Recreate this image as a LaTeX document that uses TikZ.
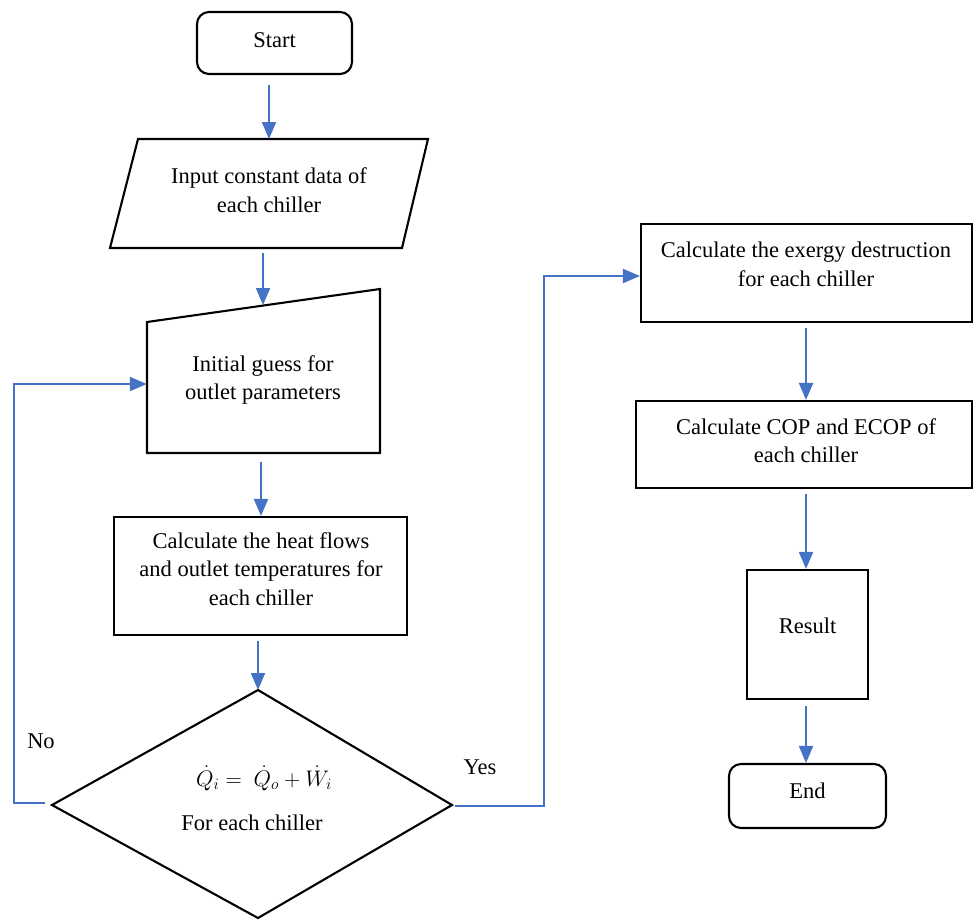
\RequirePackage{fix-cm}
\documentclass[tikz,border=0pt]{standalone}
\usepackage{fontspec}
\setmainfont{Liberation Serif}
\usetikzlibrary{arrows.meta}
\definecolor{flowblue}{HTML}{4472C4}
\begin{document}
\begin{tikzpicture}[x=1pt,y=-1pt,
  box/.style={draw=black,line width=2.1pt,inner sep=0pt},
  rbox/.style={box,rounded corners=12pt},
  shp/.style={draw=black,line width=2.1pt,line join=miter},
  txt/.style={align=center,inner sep=0pt,font=\fontsize{22.5}{28.5}\selectfont},
  arr/.style={draw=flowblue,line width=2pt,-{Triangle[width=14pt,length=17pt]}},
  every node/.append style={font=\fontsize{22.5}{28.5}\selectfont}
]
\useasboundingbox (0,0) rectangle (973,919);

% Start
\node[rbox,minimum width=155pt,minimum height=62pt] (start) at (274.5,43) {};
\node[txt] (starttxt) at (274.5,40) {Start};

% Input parallelogram
\draw[shp] (138,139) -- (428,139) -- (402,248) -- (110,248) -- cycle;
\node[minimum width=290pt,minimum height=109pt,inner sep=0pt] (input) at (269,193.5) {};
\node[txt] (inputtxt) at (269,190) {Input constant data of\\each chiller};

% Manual input (initial guess)
\draw[shp] (147,322) -- (380,289) -- (380,453) -- (147,453) -- cycle;
\coordinate (guesstop) at (263,305);
\node[minimum width=233pt,minimum height=131pt,inner sep=0pt] (guess) at (263.5,387.5) {};
\node[txt] (guesstxt) at (263,380) {Initial guess for\\outlet parameters};

% Heat flows
\node[box,minimum width=293pt,minimum height=118pt] (heat) at (260.5,576) {};
\node[txt] (heattxt) at (261,569) {Calculate the heat flows\\and outlet temperatures for\\each chiller};

% Decision diamond
\draw[shp] (258,690) -- (452,805) -- (258,918) -- (52,805) -- cycle;
\coordinate (dleft) at (45,803);
\coordinate (dright) at (455,806);
\node[inner sep=0pt] (math) at (264,778) {$\dot{Q}_i =\ \dot{Q}_o + \dot{W}_i$};
\node[txt] (dectxt) at (252,823) {For each chiller};

% Right column
\node[box,minimum width=331pt,minimum height=98pt] (exergy) at (806.5,273) {};
\node[txt] (exergytxt) at (806,264.5) {Calculate the exergy destruction\\for each chiller};

\node[box,minimum width=336pt,minimum height=87pt] (cop) at (804,444.5) {};
\node[txt] (coptxt) at (806,440.5) {Calculate COP and ECOP of\\each chiller};

\node[box,minimum width=121pt,minimum height=129pt] (result) at (807.5,634.5) {};
\node[txt] (resulttxt) at (807.5,626) {Result};

\node[rbox,minimum width=157pt,minimum height=64pt] (end) at (807.5,796) {};
\node[txt] (endtxt) at (807.5,791) {End};

% Connectors
\draw[arr] ([yshift=-10pt]start.south -| 269,0) -- (269,139);
\draw[arr] (263,253) -- (guesstop);
\draw[arr] (261,462) -- (heat.north -| 261,0);
\draw[arr] (258,641) -- (258,690);
\draw[arr] (dleft) -- (14,803) -- (14,384) -- (guess.west |- 0,384);
\draw[arr] (dright) -- (544,806) -- (544,276) -- (exergy.west |- 0,276);
\draw[arr] ([yshift=-5pt]exergy.south -| 806,0) -- (cop.north -| 806,0);
\draw[arr] ([yshift=-5pt]cop.south -| 806,0) -- (result.north -| 806,0);
\draw[arr] ([yshift=-6pt]result.south -| 806,0) -- (end.north -| 806,0);

% Labels
\node[inner sep=0pt] (nolbl) at (41,741) {No};
\node[inner sep=0pt] (yeslbl) at (480,767) {Yes};
\end{tikzpicture}
\end{document}
